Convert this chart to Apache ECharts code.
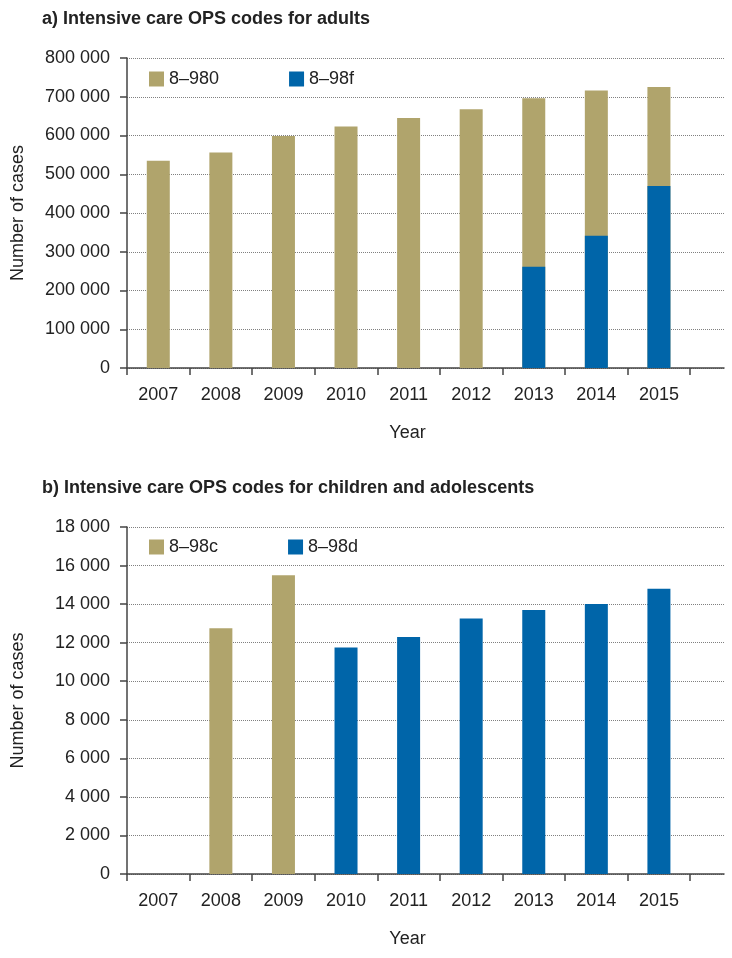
<!DOCTYPE html>
<html>
<head>
<meta charset="utf-8">
<script src="https://cdn.jsdelivr.net/npm/echarts@6/dist/echarts.min.js"></script>
<style>
html,body{margin:0;padding:0;background:#fff;}
#c{width:732px;height:958px;}
</style>
</head>
<body>
<div id="c"></div>
<script>
// ---- data ----
const years = ['2007','2008','2009','2010','2011','2012','2013','2014','2015'];
const adults980 = [535000, 556000, 599000, 623000, 645000, 668000, 696000, 716000, 725000];
const adults98f = [null, null, null, null, null, null, 261000, 341000, 470000];
const kids98c = [null, 12750, 15500, null, null, null, null, null, null];
const kids98d = [null, null, null, 11750, 12300, 13250, 13700, 14000, 14800];
const adultAxis = {min: 0, max: 800000, interval: 100000};
const kidAxis = {min: 0, max: 18000, interval: 2000};
const titleA = 'a) Intensive care OPS codes for adults';
const titleB = 'b) Intensive care OPS codes for children and adolescents';

// ---- styling ----
const FONT = '"Liberation Sans", Arial, sans-serif';
const TXT = '#222';
const AX = '#444';
const BEIGE = '#B0A46C';
const BLUE = '#0065A9';

function fmt(v){ return String(v).replace(/\B(?=(\d{3})+(?!\d))/g, ' '); }
function pts(arr){ return arr.map((v,i)=> v==null ? null : [i+0.5, v]).filter(p=>p); }

function xAxisCfg(g){
  return {
    type:'value', gridIndex:g, min:0, max:9.54, interval:1,
    axisLine:{show:true, onZero:false, lineStyle:{color:AX, width:1.5}},
    axisTick:{show:true, length:7, customValues: years.map((_,i)=>i).concat([years.length]), lineStyle:{color:AX, width:1.5}},
    axisLabel:{customValues: years.map((_,i)=>i+0.5), formatter: v => years[Math.round(v-0.5)] || '',
      margin:18, fontSize:18, color:TXT, fontFamily:FONT},
    splitLine:{show:false},
    name:'Year', nameLocation:'middle', nameGap:56,
    nameTextStyle:{fontSize:18, color:TXT, fontFamily:FONT, padding:[0,36,0,0]}
  };
}
function yAxisCfg(g, ax){
  return {
    type:'value', gridIndex:g, min:ax.min, max:ax.max, interval:ax.interval,
    axisLine:{show:true, lineStyle:{color:AX, width:1.5}},
    axisTick:{show:true, length:7, lineStyle:{color:AX, width:1.5}},
    axisLabel:{margin:17, fontSize:18, color:TXT, fontFamily:FONT, formatter: fmt},
    splitLine:{show:true, lineStyle:{type:'dotted', color:'#808080', width:1}},
    name:'Number of cases', nameLocation:'middle', nameGap:100,
    nameTextStyle:{fontSize:18, color:TXT, fontFamily:FONT}
  };
}
function barCfg(name, data, color, xi){
  return {type:'bar', name, data: pts(data), xAxisIndex:xi, yAxisIndex:xi,
    barWidth:23, barGap:'-100%', itemStyle:{color}, animation:false};
}

const chart = echarts.init(document.getElementById('c'), null, {renderer:'canvas'});
chart.setOption({
  animation:false,
  backgroundColor:'#fff',
  title:[
    {text:titleA, left:37, top:5, textStyle:{fontSize:18, fontWeight:'bold', color:TXT, fontFamily:FONT}},
    {text:titleB, left:37, top:474, textStyle:{fontSize:18, fontWeight:'bold', color:TXT, fontFamily:FONT}}
  ],
  legend:[
    {data:['8–980','8–98f'], left:144, top:65, icon:'rect', itemWidth:15, itemHeight:15, itemGap:70,
      textStyle:{fontSize:18, color:TXT, fontFamily:FONT}},
    {data:['8–98c','8–98d'], left:144, top:533, icon:'rect', itemWidth:15, itemHeight:15, itemGap:70,
      textStyle:{fontSize:18, color:TXT, fontFamily:FONT}}
  ],
  grid:[
    {left:127, top:58, width:597, height:310},
    {left:127, top:527, width:597, height:347}
  ],
  xAxis:[xAxisCfg(0), xAxisCfg(1)],
  yAxis:[yAxisCfg(0, adultAxis), yAxisCfg(1, kidAxis)],
  series:[
    barCfg('8–980', adults980, BEIGE, 0),
    barCfg('8–98f', adults98f, BLUE, 0),
    barCfg('8–98c', kids98c, BEIGE, 1),
    barCfg('8–98d', kids98d, BLUE, 1)
  ]
});
</script>
</body>
</html>
